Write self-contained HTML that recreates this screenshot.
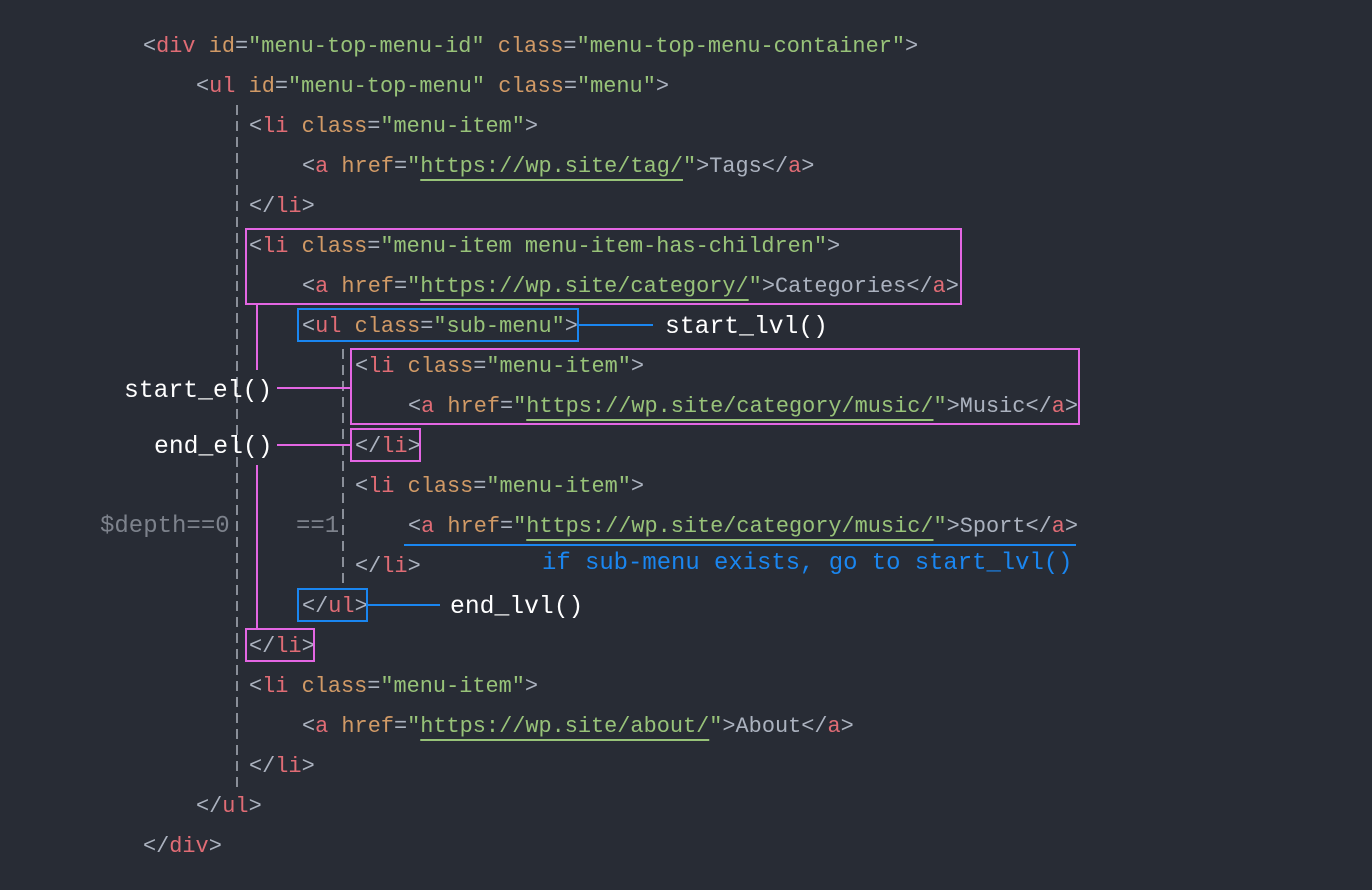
<!DOCTYPE html>
<html><head><meta charset="utf-8"><style>
body{margin:0;width:1372px;height:890px;background:#282c35;position:relative;overflow:hidden;font-family:"Liberation Mono","DejaVu Sans Mono",monospace}
.l{position:absolute;height:40px;line-height:40px;font-size:21.9px;color:#abb2bf;white-space:pre;margin-top:2px}
.t{color:#e06c75}.a{color:#d19a66}.s{color:#98c379}
.u{text-decoration:underline;text-decoration-color:#98c379;text-decoration-thickness:2px;text-underline-offset:7px}
.b{position:absolute;box-sizing:border-box;border:2px solid #e366e3}
.bb{position:absolute;box-sizing:border-box;border:2px solid #1a86f0}
.h{position:absolute;height:2px}
.v{position:absolute;width:2px}
.lab{position:absolute;color:#fff;font-size:24.7px;line-height:30px;white-space:pre;margin-top:2px}
</style></head><body>
<div class="v" style="left:236px;top:105px;height:685px;background:repeating-linear-gradient(#8a8f99 0 10px,transparent 10px 16px)"></div>
<div class="v" style="left:342px;top:349px;height:236px;background:repeating-linear-gradient(#8a8f99 0 10px,transparent 10px 16px)"></div>

<div class="l" style="left:143px;top:25px">&lt;<span class="t">div</span> <span class="a">id</span>=<span class="s">"menu-top-menu-id"</span> <span class="a">class</span>=<span class="s">"menu-top-menu-container"</span>&gt;</div>
<div class="l" style="left:196px;top:65px">&lt;<span class="t">ul</span> <span class="a">id</span>=<span class="s">"menu-top-menu"</span> <span class="a">class</span>=<span class="s">"menu"</span>&gt;</div>
<div class="l" style="left:249px;top:105px">&lt;<span class="t">li</span> <span class="a">class</span>=<span class="s">"menu-item"</span>&gt;</div>
<div class="l" style="left:302px;top:145px">&lt;<span class="t">a</span> <span class="a">href</span>=<span class="s">"<span class="u">https://wp.site/tag/</span>"</span>&gt;Tags&lt;/<span class="t">a</span>&gt;</div>
<div class="l" style="left:249px;top:185px">&lt;/<span class="t">li</span>&gt;</div>
<div class="l" style="left:249px;top:225px">&lt;<span class="t">li</span> <span class="a">class</span>=<span class="s">"menu-item menu-item-has-children"</span>&gt;</div>
<div class="l" style="left:302px;top:265px">&lt;<span class="t">a</span> <span class="a">href</span>=<span class="s">"<span class="u">https://wp.site/category/</span>"</span>&gt;Categories&lt;/<span class="t">a</span>&gt;</div>
<div class="l" style="left:302px;top:305px">&lt;<span class="t">ul</span> <span class="a">class</span>=<span class="s">"sub-menu"</span>&gt;</div>
<div class="l" style="left:355px;top:345px">&lt;<span class="t">li</span> <span class="a">class</span>=<span class="s">"menu-item"</span>&gt;</div>
<div class="l" style="left:408px;top:385px">&lt;<span class="t">a</span> <span class="a">href</span>=<span class="s">"<span class="u">https://wp.site/category/music/</span>"</span>&gt;Music&lt;/<span class="t">a</span>&gt;</div>
<div class="l" style="left:355px;top:425px">&lt;/<span class="t">li</span>&gt;</div>
<div class="l" style="left:355px;top:465px">&lt;<span class="t">li</span> <span class="a">class</span>=<span class="s">"menu-item"</span>&gt;</div>
<div class="l" style="left:408px;top:505px">&lt;<span class="t">a</span> <span class="a">href</span>=<span class="s">"<span class="u">https://wp.site/category/music/</span>"</span>&gt;Sport&lt;/<span class="t">a</span>&gt;</div>
<div class="l" style="left:355px;top:545px">&lt;/<span class="t">li</span>&gt;</div>
<div class="l" style="left:302px;top:585px">&lt;/<span class="t">ul</span>&gt;</div>
<div class="l" style="left:249px;top:625px">&lt;/<span class="t">li</span>&gt;</div>
<div class="l" style="left:249px;top:665px">&lt;<span class="t">li</span> <span class="a">class</span>=<span class="s">"menu-item"</span>&gt;</div>
<div class="l" style="left:302px;top:705px">&lt;<span class="t">a</span> <span class="a">href</span>=<span class="s">"<span class="u">https://wp.site/about/</span>"</span>&gt;About&lt;/<span class="t">a</span>&gt;</div>
<div class="l" style="left:249px;top:745px">&lt;/<span class="t">li</span>&gt;</div>
<div class="l" style="left:196px;top:785px">&lt;/<span class="t">ul</span>&gt;</div>
<div class="l" style="left:143px;top:825px">&lt;/<span class="t">div</span>&gt;</div>

<div class="b" style="left:245px;top:228px;width:717px;height:77px"></div>
<div class="bb" style="left:297px;top:308px;width:282px;height:34px"></div>
<div class="b" style="left:350px;top:348px;width:730px;height:77px"></div>
<div class="b" style="left:350px;top:428px;width:71px;height:34px"></div>
<div class="bb" style="left:297px;top:588px;width:71px;height:34px"></div>
<div class="b" style="left:245px;top:628px;width:70px;height:34px"></div>

<div class="h" style="left:579px;top:324px;width:74px;background:#1a86f0"></div>
<div class="lab" style="left:665px;top:310px">start_lvl()</div>
<div class="h" style="left:368px;top:604px;width:72px;background:#1a86f0"></div>
<div class="lab" style="left:450px;top:590px">end_lvl()</div>
<div class="v" style="left:256px;top:305px;height:65px;background:#e366e3"></div>
<div class="v" style="left:256px;top:465px;height:163px;background:#e366e3"></div>
<div class="h" style="left:277px;top:387px;width:73px;background:#e366e3"></div>
<div class="h" style="left:277px;top:444px;width:73px;background:#e366e3"></div>
<div class="lab" style="left:124px;top:374px">start_el()</div>
<div class="lab" style="left:154px;top:430px">end_el()</div>
<div class="lab" style="left:100px;top:510px;color:#7d828c;font-size:24px">$depth==0</div>
<div class="lab" style="left:296px;top:510px;color:#7d828c;font-size:24px">==1</div>
<div class="h" style="left:404px;top:544px;width:672px;background:#1a86f0"></div>
<div class="lab" style="left:542px;top:547px;color:#1a86f0;font-size:23.9px">if sub-menu exists, go to start_lvl()</div>
</body></html>
